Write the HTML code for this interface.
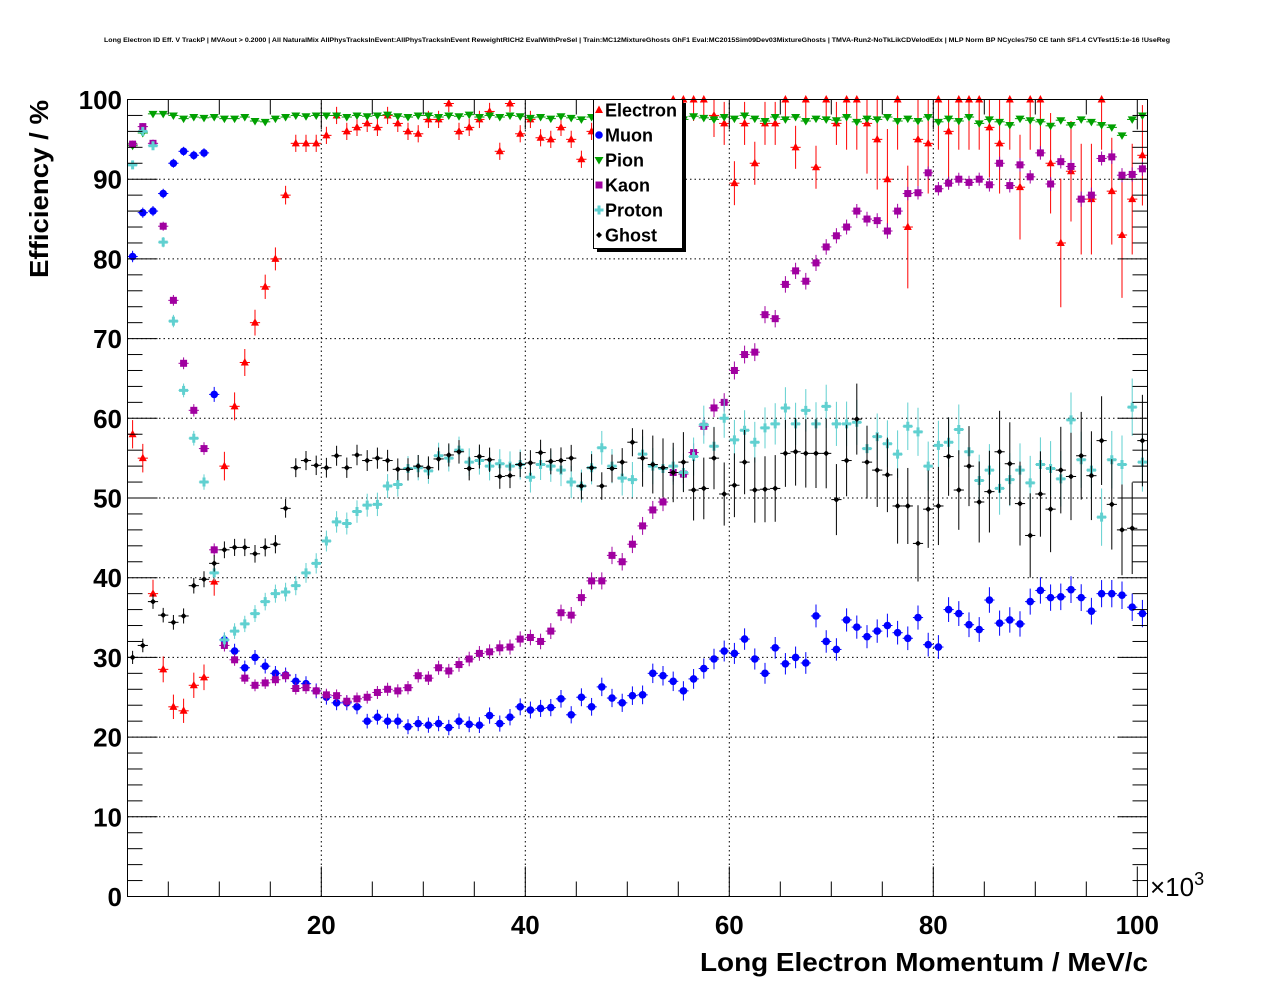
<!DOCTYPE html>
<html><head><meta charset="utf-8"><style>
html,body{margin:0;padding:0;background:#fff;}
svg{display:block;font-family:"Liberation Sans",Arial,sans-serif;}
</style></head><body>
<svg id="chart" width="1276" height="996" viewBox="0 0 1276 996" xmlns="http://www.w3.org/2000/svg">
<rect x="0" y="0" width="1276" height="996" fill="#fff"/>
<text x="637" y="42" font-size="6.2" text-anchor="middle" font-weight="bold" textLength="1066" lengthAdjust="spacingAndGlyphs">Long Electron ID Eff. V TrackP | MVAout &gt; 0.2000 | All NaturalMix AllPhysTracksInEvent:AllPhysTracksInEvent ReweightRICH2 EvalWithPreSel | Train:MC12MixtureGhosts GhF1 Eval:MC2015Sim09Dev03MixtureGhosts | TMVA-Run2-NoTkLikCDVelodEdx | MLP Norm BP NCycles750 CE tanh SF1.4 CVTest15:1e-16 !UseReg</text>
<g id="grid"></g>
<g id="series"></g>
<rect x="127.5" y="99.5" width="1020" height="797" fill="none" stroke="#000" stroke-width="1"/>
<g id="axes"></g>
<text x="1148" y="971" font-size="26" font-weight="bold" text-anchor="end" textLength="448" lengthAdjust="spacingAndGlyphs">Long Electron Momentum / MeV/c</text>
<text x="1150" y="896" font-size="26">×10<tspan font-size="18" dy="-11">3</tspan></text>
<text transform="translate(48,100) rotate(-90)" font-size="26" font-weight="bold" text-anchor="end" textLength="178" lengthAdjust="spacingAndGlyphs">Efficiency / %</text>
<g id="legend">
<rect x="597" y="103" width="89" height="149" fill="#000"/>
<rect x="593.5" y="99.5" width="89" height="149" fill="#fff" stroke="#000"/>
</g>
</svg>
<script>
const categories = Array.from({length:100},(_,i)=>i+1.5); // bin centres in 10^3 MeV/c
const electronVals = [58,55,38,28.5,23.8,23.3,26.5,27.5,39.5,54,
61.5,67,72,76.5,80,88,94.5,94.5,94.5,95.5,
98,96,96.5,97,96.5,98,97,96,95.7,97.5,
97.5,99.5,96,96.5,97.5,98.5,93.5,99.5,95.7,97.5,
95.2,95,96.5,95,92.5,96,95,96,95,96,
99,94,99,100,100,100,100,98,97,89.5,
97,92,97,97,100,94,100,91.5,100,97,
100,100,97,95,90,100,84,95,94.5,100,
96,100,100,100,96.5,94.5,100,89,100,100,
92,82,91,87.5,87.5,100,88.5,83,87.5,93];
const muonVals = [80.3,85.8,86,88.2,92,93.5,93,93.3,63,32.2,
30.8,28.7,30,28.9,28,27.8,27,26.7,25.8,25,
24.3,24.3,23.8,22,22.5,22,22,21.3,21.7,21.5,
21.7,21.2,22,21.6,21.5,22.7,21.7,22.5,23.8,23.4,
23.6,23.7,24.8,22.8,25,23.8,26.3,24.9,24.3,25.2,
25.3,28,27.7,27,25.8,27.3,28.6,29.8,30.8,30.5,
32.3,29.8,28,31.2,29.2,30,29.3,35.2,32,31,
34.7,33.8,32.6,33.3,34,33.1,32.4,35,31.6,31.3,
36,35.5,34.1,33.5,37.2,34.3,34.7,34.2,37,38.4,
37.5,37.6,38.5,37.5,35.8,38,38,37.8,36.3,35.5];
const pionVals = [94.2,95.8,98.2,98.2,98,97.6,97.8,97.7,97.8,97.6,
97.6,97.8,97.3,97.2,97.6,97.8,98,97.9,98,98,
98,97.8,98,97.9,98,98.1,97.9,97.8,98,98,
97.8,98,97.9,98.1,97.8,98,97.8,98,97.9,97.7,
97.8,97.6,97.9,97.7,97.5,97.8,98,97.6,97.8,97.5,
97.8,97.6,97.9,98,97.5,97.9,97.7,97.5,97.8,97.6,
98,97.6,97.3,97.8,97.5,97.8,97.3,97.6,97.5,97.4,
97.8,97.2,97.6,97.5,97.8,97.3,97.6,97.3,97.8,97.2,
97.6,97.3,97.8,97,97.5,97.2,96.8,97.6,97.4,97.2,
96.7,97.4,96.8,97.5,97.2,96.8,96.5,95.5,97.5,98];
const kaonVals = [94.4,96.6,94.5,84.1,74.8,66.9,61,56.2,43.5,31.5,
29.7,27.4,26.5,26.8,27.2,27.7,26.1,26.2,25.8,25.3,
25.2,24.5,24.8,25,25.6,26,25.8,26.2,27.7,27.4,
28.7,28.3,29.1,29.8,30.5,30.7,31.2,31.3,32.3,32.5,
32,33.3,35.6,35.3,37.5,39.6,39.6,42.8,42,44.2,
46.5,48.5,49.5,53.2,53,55.7,59,61.3,62,66,
68,68.3,73,72.5,76.8,78.5,77.2,79.5,81.5,82.9,
84,86,85,84.8,83.5,86,88.2,88.3,90.8,88.8,
89.5,90,89.6,90,89.3,92,89.2,91.8,90.3,93.3,
89.4,92.2,91.6,87.5,88,92.6,92.8,90.5,90.6,91.3];
const protonVals = [91.8,96,94.2,82.1,72.2,63.5,57.5,52,40.6,32.2,
33.3,34.2,35.5,37,38,38.2,39,40.6,41.8,44.6,
47,46.8,48.3,49.1,49.2,51.5,51.7,53.7,53.8,53.4,
55.3,55,56,54.5,54.7,54,54.3,54,54.2,52.6,
54.2,54,53.5,52,51.5,53.8,56.3,54,52.5,52.3,
55.5,54,53.7,54,53.2,55.2,59.2,56.5,60,57.3,
58.5,57,58.8,59.3,61.3,59.3,61,59.3,61.5,59.3,
59.3,59.5,56.2,57.7,56.8,55.5,59,58.3,54,56.6,
57,58.6,55.8,52.2,53.5,51.2,52.3,53.5,51.9,54.2,
53.7,52.4,59.8,54.8,53.5,47.6,54.8,54.2,61.4,54.5];
const ghostVals = [30,31.5,37,35.3,34.4,35.2,39,39.8,41.8,43.5,
43.8,43.8,43,43.8,44.2,48.7,53.8,54.7,54.1,53.8,
55.3,53.8,55.4,54.7,55,54.7,53.6,53.6,54,53.8,
54.9,55.4,55.8,53.7,55.2,54.8,52.7,52.8,54.2,54.4,
55.7,54.6,54.7,55,51.5,53.8,51.5,53.7,54.5,57,
55,54.2,53.8,53.2,54.5,51,51.2,55,50.5,51.6,
54.5,51,51.1,51.2,55.6,55.8,55.6,55.6,55.6,49.8,
54.7,59.9,54.5,53.5,52.9,49,49,44.3,48.6,49,
55.2,51,54,49.5,50.8,55.8,54.3,49.3,45.3,50.5,
48.6,53.5,52.7,55.3,52.8,57.2,49.2,46,46.2,57.2];
const yTickLabels = ["0","10","20","30","40","50","60","70","80","90","100"];
const xTickLabels = ["20","40","60","80","100"];
const legendLabels = ["Electron","Muon","Pion","Kaon","Proton","Ghost"];

const NS="http://www.w3.org/2000/svg";
const X0=127.5,X1=1147.5,XMIN=1,XMAX=101,Y0=896.5,Y1=99.5;
const xs=v=>X0+(v-XMIN)/(XMAX-XMIN)*(X1-X0);
const ys=v=>Y0-v/100*(Y0-Y1);
function mk(tag,attrs,parent){const e=document.createElementNS(NS,tag);for(const k in attrs)e.setAttribute(k,attrs[k]);parent.appendChild(e);return e;}
const grid=document.getElementById('grid'),axes=document.getElementById('axes'),ser=document.getElementById('series'),leg=document.getElementById('legend');

for(let v=10;v<100;v+=10){const l=mk('line',{x1:X0,x2:X1,y1:ys(v),y2:ys(v),stroke:'#000','stroke-dasharray':'1.5,3','stroke-width':1},grid);

}
for(let v=20;v<100;v+=20){const l=mk('line',{x1:xs(v),x2:xs(v),y1:Y0,y2:Y1,stroke:'#000','stroke-dasharray':'1.5,3','stroke-width':1},grid);

}

for(let v=0;v<=100;v+=2){const major=v%10===0,len=major?30:15;
const a=mk('line',{x1:X0,x2:X0+len,y1:ys(v),y2:ys(v),stroke:'#000'},axes);


const b=mk('line',{x1:X1,x2:X1-len,y1:ys(v),y2:ys(v),stroke:'#000'},axes);

}
yTickLabels.forEach((t,i)=>{const e=mk('text',{x:122,y:ys(i*10)+9.5,'font-size':26,'font-weight':'bold','text-anchor':'end'},axes);e.textContent=t;

});
for(let v=5;v<=100;v+=5){const major=v%20===0,len=major?30:15;
const a=mk('line',{x1:xs(v),x2:xs(v),y1:Y0,y2:Y0-len,stroke:'#000'},axes);


const b=mk('line',{x1:xs(v),x2:xs(v),y1:Y1,y2:Y1+len,stroke:'#000'},axes);

}
xTickLabels.forEach((t,i)=>{const e=mk('text',{x:xs((i+1)*20),y:934,'font-size':26,'font-weight':'bold','text-anchor':'middle'},axes);e.textContent=t;

});

function marker(type,color,cx,cy,g){
 let e;
 if(type==='tri'){e=mk('polygon',{points:`${cx},${cy-4.5} ${cx-4},${cy+3} ${cx+4},${cy+3}`,fill:color},g);}
 else if(type==='circ'){e=mk('circle',{cx:cx,cy:cy,r:3.8,fill:color},g);}
 else if(type==='itri'){e=mk('polygon',{points:`${cx},${cy+4.5} ${cx-4.5},${cy-3} ${cx+4.5},${cy-3}`,fill:color},g);}
 else if(type==='sq'){e=mk('rect',{x:cx-3.5,y:cy-3.5,width:7,height:7,fill:color},g);}
 else if(type==='plus'){e=mk('path',{d:`M${cx-4.5},${cy-1.5}h3v-3h3v3h3v3h-3v3h-3v-3h-3z`,fill:color},g);}
 else {e=mk('path',{d:`M${cx},${cy-3}L${cx+3},${cy}L${cx},${cy+3}L${cx-3},${cy}z`,fill:color},g);}
 return e;
}
const seriesDefs=[
 {name:'electron',vals:electronVals,color:'#ff0000',m:'tri'},
 {name:'muon',vals:muonVals,color:'#0000ff',m:'circ'},
 {name:'pion',vals:pionVals,color:'#00a000',m:'itri'},
 {name:'kaon',vals:kaonVals,color:'#a000a0',m:'sq'},
 {name:'proton',vals:protonVals,color:'#60d0d0',m:'plus'},
 {name:'ghost',vals:ghostVals,color:'#000000',m:'diam'}];
function errFor(name,v,i){
 const p=Math.max(0.3,Math.sqrt(Math.max(v*(100-v),1))/100);
 const scale={electron:i<50?1.2:(i<70?3:7),muon:0.6+i*0.006,pion:0.15,kaon:0.5+i*0.005,proton:0.5+i*0.02,ghost:i<50?0.6+i*0.012:0.9+i*0.03}[name];
 return Math.min(p*scale*3,14);
}
seriesDefs.forEach(s=>{
 const g=mk('g',{},ser);
 
 
 s.vals.forEach((v,i)=>{
  const cx=xs(categories[i]),cy=ys(Math.min(v,100.3));
  const er=errFor(s.name,v,i);
  const h=mk('line',{x1:xs(categories[i]-0.5),x2:xs(categories[i]+0.5),y1:cy,y2:cy,stroke:s.color,'stroke-width':1},g);
  
  
  const vline=mk('line',{x1:cx,x2:cx,y1:Math.max(Y1,ys(v+er)),y2:ys(Math.max(0,v-er)),stroke:s.color,'stroke-width':1},g);
  
  
  const m=marker(s.m,s.color,cx,cy,g);
  
  
 });
});
legendLabels.forEach((t,i)=>{
 const y=110+i*25,s=seriesDefs[i];
 const m=marker(s.m,s.color,599,y,leg);
 
 
 const e=mk('text',{x:605,y:y+6.5,'font-size':18,'font-weight':'bold'},leg);e.textContent=t;
 
 
});
</script>
</body></html>
